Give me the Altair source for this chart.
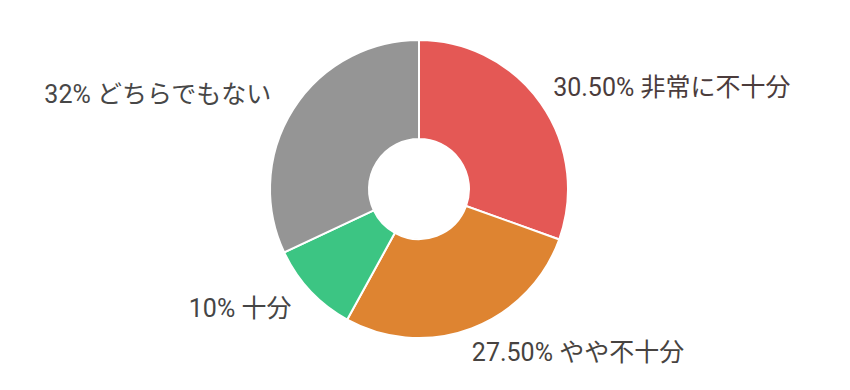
import altair as alt
import pandas as pd

categories = ["非常に不十分", "やや不十分", "十分", "どちらでもない"]
values = [30.5, 27.5, 10, 32]
labels = ["30.50% 非常に不十分", "27.50% やや不十分", "10% 十分", "32% どちらでもない"]
order = [0, 1, 2, 3]

slice_colors = ["#E45855", "#DE8431", "#3CC583", "#959595"]
label_colors = ["#4b3c3c", "#474340", "#454545", "#474747"]

df = pd.DataFrame({"category": categories, "value": values, "label": labels, "order": order})

FONT = "Roboto, Noto Sans CJK JP, sans-serif"

base = alt.Chart(df)

arcs = base.mark_arc(outerRadius=149, innerRadius=50, stroke="white", strokeWidth=2).encode(
    theta=alt.Theta("value:Q", stack=True, scale=alt.Scale(domain=[0, 100])),
    color=alt.Color("category:N", scale=alt.Scale(domain=categories, range=slice_colors), legend=None),
    order=alt.Order("order:Q", sort="ascending"),
)

def text_layer(cond, align, dx):
    return (
        base.transform_stack(stack="value", as_=["v0", "v1"], groupby=[], sort=[alt.SortField("order", order="ascending")])
        .transform_calculate(mid="(datum.v0 + datum.v1) / 2")
        .transform_filter(cond)
        .mark_text(align=align, baseline="middle", fontSize=25, font=FONT, dx=dx)
        .encode(
            theta=alt.Theta("mid:Q", scale=alt.Scale(domain=[0, 100])),
            radius=alt.value(175),
            text="label:N",
            color=alt.Color("category:N", scale=alt.Scale(domain=categories, range=label_colors), legend=None),
        )
    )

right = text_layer("datum.mid < 50", "left", -9)
left = text_layer("datum.mid >= 50", "right", 0)

chart = (
    alt.layer(arcs, right, left)
    .resolve_scale(color="independent")
    .properties(width=838, height=378, autosize=alt.AutoSizeParams(type="none"), padding=0, background="white")
    .configure_view(stroke=None)
)

chart.save("out.html", embed_options={"renderer": "svg", "actions": False})
